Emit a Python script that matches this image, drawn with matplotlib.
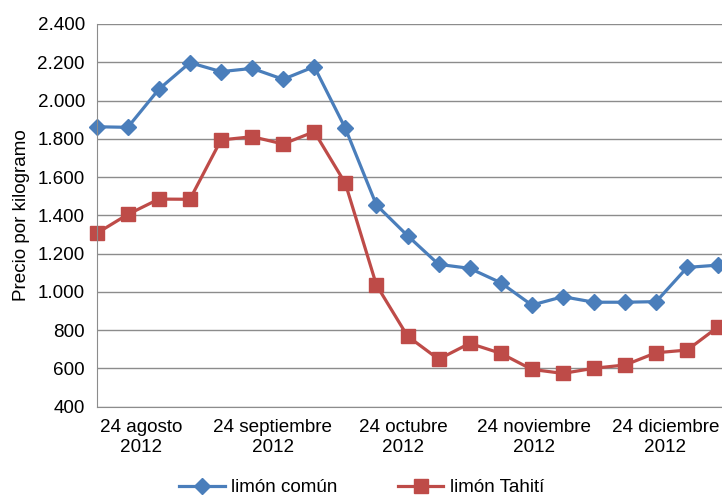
import numpy as np
import matplotlib
matplotlib.use("Agg")
import matplotlib.pyplot as plt
from matplotlib.ticker import FuncFormatter


# Weekly prices (pesos por kilogramo)
comun = [1863, 1860, 2059, 2198, 2151, 2168, 2111, 2177, 1855, 1454, 1294,
         1144, 1123, 1048, 931, 975, 946, 946, 949, 1128, 1140]
tahiti = [1306, 1405, 1485, 1484, 1794, 1811, 1773, 1837, 1567, 1036, 769,
          648, 731, 679, 595, 574, 601, 618, 682, 696, 818]

# Month labels and where they sit on the week axis
tick_weeks = [1.44, 5.67, 9.87, 14.07, 18.30]
tick_labels = ["24 agosto\n2012", "24 septiembre\n2012", "24 octubre\n2012",
               "24 noviembre\n2012", "24 diciembre\n2012"]

series_names = ["limón común", "limón Tahití"]

blue = "#4A7EBB"
red = "#BE4B48"
grid_col = "#8C8C8C"
fs = 13.6

plt.rcParams['font.family'] = ['Liberation Sans', 'DejaVu Sans']

fig = plt.figure(figsize=(7.22, 4.96), dpi=100)
# the plot area runs past the right edge of the picture, as in the original
ax = fig.add_axes([96.7 / 722, 1 - 406.7 / 496, 21 * 31.08 / 722, (406.7 - 24) / 496])

weeks = np.arange(len(comun))
ax.plot(weeks, comun, color=blue, lw=2.3, marker="D", ms=8,
        mec=blue, mfc=blue, label=series_names[0], clip_on=False)
ax.plot(weeks, tahiti, color=red, lw=2.3, marker="s", ms=10.3,
        mec=red, mfc=red, label=series_names[1], clip_on=False)

ax.set_xlim(0, 21)
ax.set_ylim(400, 2400)
ax.set_yticks(np.arange(400, 2401, 200))
ax.yaxis.set_major_formatter(FuncFormatter(lambda v, p: f"{int(v):,}".replace(",", ".")))
ax.set_xticks(tick_weeks)
ax.set_xticklabels(tick_labels, fontsize=fs, linespacing=1.2)

ax.grid(axis="y", color=grid_col, lw=1.0)
ax.set_axisbelow(True)
ax.tick_params(axis="both", length=0, labelsize=fs, colors="black")
ax.tick_params(axis="y", pad=8.5)
ax.tick_params(axis="x", pad=9)

for s in ["top", "right"]:
    ax.spines[s].set_visible(False)
ax.spines["left"].set_color(grid_col)
ax.spines["bottom"].set_color(grid_col)

ax.set_ylabel("Precio por kilogramo", fontsize=fs, labelpad=5)

fig.legend(loc="center", bbox_to_anchor=(0.501, 0.017), ncol=2, frameon=False,
           fontsize=fs, handlelength=2.4, handletextpad=0.35, columnspacing=3.2)

fig.savefig("out.png", dpi=100)
